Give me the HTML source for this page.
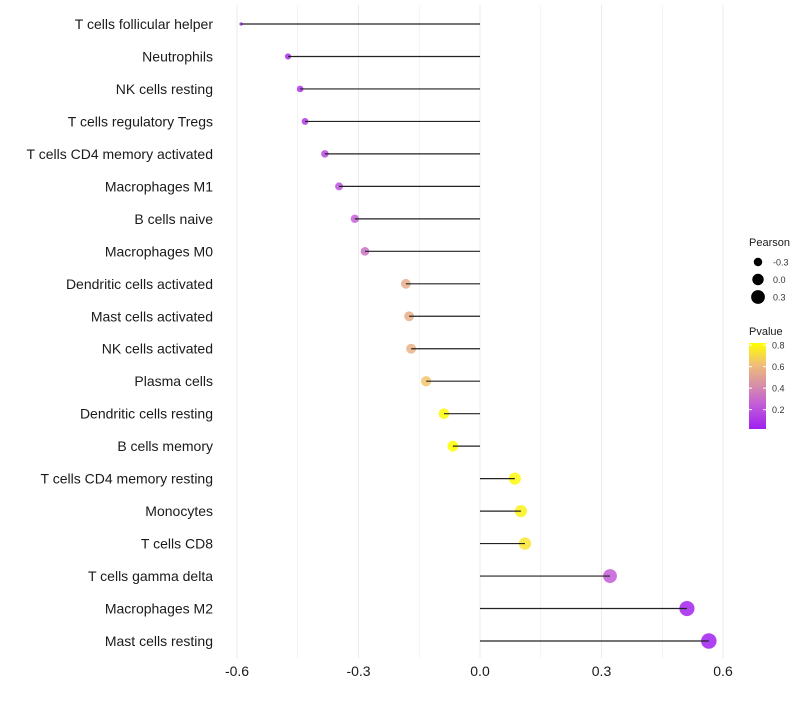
<!DOCTYPE html>
<html><head><meta charset="utf-8"><style>
body{margin:0;background:#fff;font-family:"Liberation Sans",sans-serif}
</style></head><body>
<svg id="chart" width="800" height="700" xmlns="http://www.w3.org/2000/svg" font-family="Liberation Sans, sans-serif"></svg>
<script>
const categories=["T cells follicular helper","Neutrophils","NK cells resting","T cells regulatory  Tregs","T cells CD4 memory activated","Macrophages M1","B cells naive","Macrophages M0","Dendritic cells activated","Mast cells activated","NK cells activated","Plasma cells","Dendritic cells resting","B cells memory","T cells CD4 memory resting","Monocytes","T cells CD8","T cells gamma delta","Macrophages M2","Mast cells resting"];
const pearson=[-0.59,-0.474,-0.444,-0.432,-0.383,-0.348,-0.309,-0.284,-0.183,-0.175,-0.170,-0.133,-0.089,-0.067,0.086,0.101,0.111,0.321,0.511,0.565];
const pvalue=[0.03,0.08,0.1,0.12,0.18,0.2,0.26,0.32,0.55,0.56,0.57,0.64,0.8,0.84,0.8,0.78,0.74,0.25,0.03,0.02];
const xTicks=[-0.6,-0.3,0.0,0.3,0.6];
const xTickLabels=["-0.6","-0.3","0.0","0.3","0.6"];
const sizeLegend=[-0.3,0.0,0.3];
const colorTicks=[0.2,0.4,0.6,0.8];

const svg=document.getElementById('chart');
const NS="http://www.w3.org/2000/svg";
function mk(tag,attrs,parent){const e=document.createElementNS(NS,tag);for(const k in attrs)e.setAttribute(k,attrs[k]);(parent||svg).appendChild(e);return e;}
const x=v=>480+v*405;
const y=i=>24+i*(617/19);
const pmin=0.02,pmax=0.82;
const cstops=[[0,[160,32,240]],[0.3,[196,96,214]],[0.5,[214,140,170]],[0.75,[240,190,120]],[1,[255,255,0]]];
function col(p){let t=(p-pmin)/(pmax-pmin);t=Math.max(0,Math.min(1,t));
 let k=0;while(k<cstops.length-2&&t>cstops[k+1][0])k++;
 const [t0,a]=cstops[k],[t1,b]=cstops[k+1];const u=(t-t0)/(t1-t0);
 return `rgb(${a.map((c,i)=>Math.round(c+(b[i]-c)*u)).join(',')})`;}
const smin=Math.min(...pearson),smax=Math.max(...pearson);
function rad(v){const t=(v-smin)/(smax-smin);return v===smin?1.6:Math.sqrt(4+t*56);}

for(let v=-0.6;v<=0.601;v+=0.15){
 const major=Math.abs(Math.round(v/0.3)*0.3-v)<0.01;
 const g=mk('line',{x1:x(v),x2:x(v),y1:5,y2:658,stroke:'#ebebeb','stroke-width':major?1:0.6});
 
 
}
categories.forEach((c,i)=>{
 const t=mk('text',{x:213,y:y(i)+5,'text-anchor':'end','font-size':14,fill:'#1a1a1a'});
 t.textContent=c;
 
 
 const p=mk('circle',{cx:x(pearson[i]),cy:y(i),r:rad(pearson[i]),fill:col(pvalue[i]),'fill-opacity':0.85});
 
 
 const l=mk('line',{x1:x(0),x2:x(pearson[i]),y1:y(i),y2:y(i),stroke:'#222','stroke-width':1.2});
 
 
});
xTicks.forEach((v,i)=>{
 const t=mk('text',{x:x(v),y:676,'text-anchor':'middle','font-size':14,fill:'#1a1a1a'});
 t.textContent=xTickLabels[i];
 
 
});
const lt=mk('text',{x:749,y:246,'font-size':11,fill:'#1a1a1a'});lt.textContent='Pearson';


sizeLegend.forEach((v,i)=>{
 const cy=262+i*17.5;
 const c=mk('circle',{cx:758,cy:cy,r:rad(v),fill:'#000'});
 
 
 const t=mk('text',{x:773,y:cy+3.5,'font-size':9,fill:'#333'});t.textContent=v.toFixed(1);
 
 
});
const ct=mk('text',{x:749,y:335,'font-size':11,fill:'#1a1a1a'});ct.textContent='Pvalue';


const defs=mk('defs',{});
const gr=mk('linearGradient',{id:'g',x1:0,y1:1,x2:0,y2:0},defs);
for(let k=0;k<=20;k++){mk('stop',{offset:k/20,'stop-color':col(pmin+(pmax-pmin)*k/20)},gr);}
const cb=mk('rect',{x:749,y:343,width:17,height:86,fill:'url(#g)'});


const cy=v=>429-(v-pmin)/(pmax-pmin)*86;
colorTicks.forEach(v=>{
 mk('line',{x1:749,x2:752,y1:cy(v),y2:cy(v),stroke:'#fff'});
 mk('line',{x1:763,x2:766,y1:cy(v),y2:cy(v),stroke:'#fff'});
 const t=mk('text',{x:772,y:cy(v)+3.5,'font-size':9,fill:'#333'});t.textContent=v.toFixed(1);
 
 
});
</script>
</body></html>
